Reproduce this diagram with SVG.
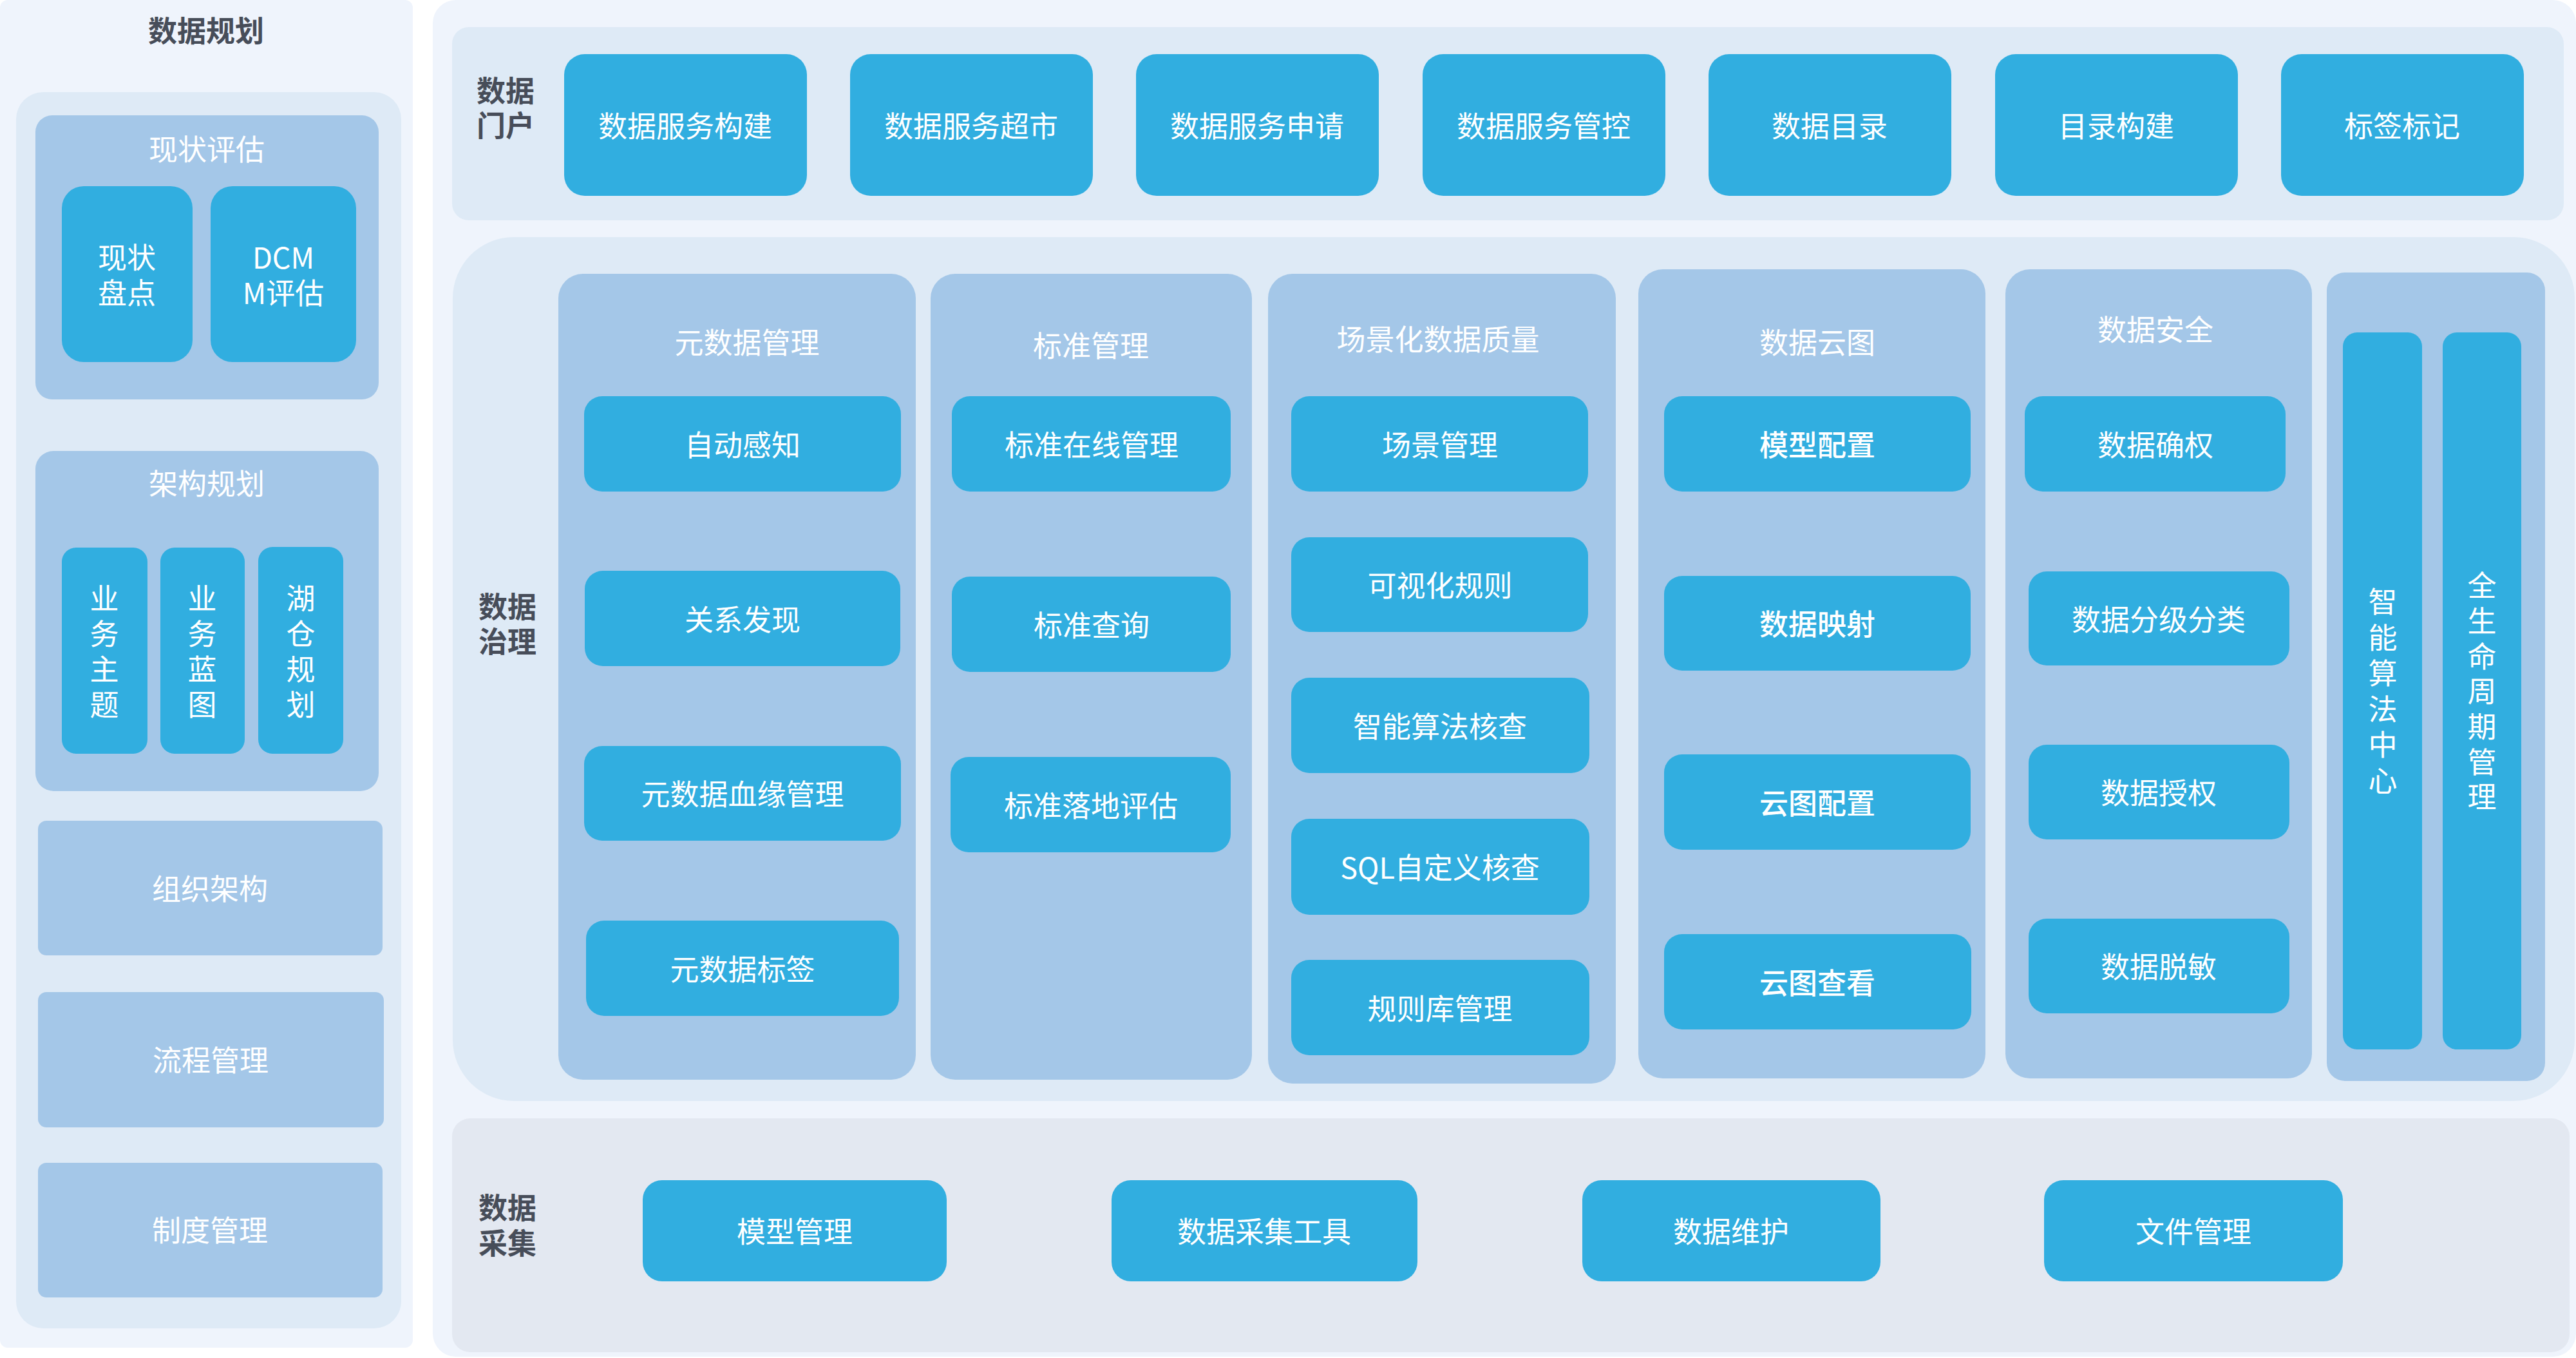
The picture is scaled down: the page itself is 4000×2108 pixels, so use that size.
<svg xmlns="http://www.w3.org/2000/svg" width="4000" height="2108" viewBox="0 0 4000 2108">
<style>
.op{fill:#eff4fc}
.band{fill:#deeaf6}
.col{fill:#a4c7e8}
.box{fill:#31aee0}
.coll{fill:#e3e8f1}
text{font-family:"Noto Sans CJK SC","Noto Sans",sans-serif;font-size:45px;fill:#ffffff;text-anchor:middle;dominant-baseline:central}
.lbl{fill:#474d59;font-weight:700}
.md{font-weight:500}
.v{writing-mode:vertical-rl;letter-spacing:10px}
</style>
<rect x="0" y="0" width="4000" height="2108" fill="#ffffff"/>

<!-- Left: 数据规划 -->
<g id="plan">
<rect class="op" x="0" y="0" width="641" height="2092" rx="12"/>
<text class="lbl" x="320" y="45">数据规划</text>
<rect class="band" x="25" y="143" width="598" height="1919" rx="42"/>
</g>
<g id="status-eval">
<rect class="col" x="55" y="179" width="533" height="441" rx="26"/>
<text x="321" y="229">现状评估</text>
</g>
<g id="status-inventory">
<rect class="box" x="96" y="289" width="203" height="273" rx="34"/>
<text><tspan x="197" y="397">现状</tspan><tspan x="197" y="452">盘点</tspan></text>
</g>
<g id="dcm">
<rect class="box" x="327" y="289" width="226" height="273" rx="34"/>
<text><tspan x="440" y="397">DCM</tspan><tspan x="440" y="452">M评估</tspan></text>
</g>
<g id="arch-plan">
<rect class="col" x="55" y="700" width="533" height="528" rx="28"/>
<text x="321" y="748">架构规划</text>
</g>
<g id="biz-topic">
<rect class="box" x="96" y="850" width="133" height="320" rx="22"/>
<text class="v" x="162" y="1016">业务主题</text>
</g>
<g id="biz-blueprint">
<rect class="box" x="249" y="850" width="131" height="320" rx="22"/>
<text class="v" x="314" y="1016">业务蓝图</text>
</g>
<g id="lakehouse-plan">
<rect class="box" x="401" y="849" width="132" height="321" rx="22"/>
<text class="v" x="467" y="1016">湖仓规划</text>
</g>
<g id="org">
<rect class="col" x="59" y="1274" width="535" height="209" rx="13"/>
<text x="326" y="1377">组织架构</text>
</g>
<g id="process">
<rect class="col" x="59" y="1540" width="537" height="210" rx="13"/>
<text x="327" y="1643">流程管理</text>
</g>
<g id="policy">
<rect class="col" x="59" y="1805" width="535" height="209" rx="13"/>
<text x="326" y="1907">制度管理</text>
</g>

<!-- Right main panel -->
<g id="main">
<rect class="op" x="672" y="0" width="3328" height="2106" rx="36"/>
</g>

<!-- 数据门户 -->
<g id="portal">
<rect class="band" x="702" y="42" width="3279" height="300" rx="26"/>
<text class="lbl"><tspan x="785" y="138">数据</tspan><tspan x="785" y="192">门户</tspan></text>
</g>
<g id="p1"><rect class="box" x="876" y="84" width="377" height="220" rx="32"/><text x="1064" y="193">数据服务构建</text></g>
<g id="p2"><rect class="box" x="1320" y="84" width="377" height="220" rx="32"/><text x="1508" y="193">数据服务超市</text></g>
<g id="p3"><rect class="box" x="1764" y="84" width="377" height="220" rx="32"/><text x="1952" y="193">数据服务申请</text></g>
<g id="p4"><rect class="box" x="2209" y="84" width="377" height="220" rx="32"/><text x="2397" y="193">数据服务管控</text></g>
<g id="p5"><rect class="box" x="2653" y="84" width="377" height="220" rx="32"/><text x="2841" y="193">数据目录</text></g>
<g id="p6"><rect class="box" x="3098" y="84" width="377" height="220" rx="32"/><text x="3286" y="193">目录构建</text></g>
<g id="p7"><rect class="box" x="3542" y="84" width="377" height="220" rx="32"/><text x="3730" y="193">标签标记</text></g>

<!-- 数据治理 -->
<g id="governance">
<rect class="band" x="703" y="368" width="3295" height="1341" rx="95"/>
<text class="lbl"><tspan x="788" y="939">数据</tspan><tspan x="788" y="993">治理</tspan></text>
</g>

<g id="metadata">
<rect class="col" x="867" y="425" width="555" height="1251" rx="38"/>
<text x="1160" y="529">元数据管理</text>
</g>
<g id="m1"><rect class="box" x="907" y="615" width="492" height="148" rx="28"/><text x="1153" y="688">自动感知</text></g>
<g id="m2"><rect class="box" x="908" y="886" width="490" height="148" rx="28"/><text x="1153" y="959">关系发现</text></g>
<g id="m3"><rect class="box" x="907" y="1158" width="492" height="147" rx="28"/><text x="1153" y="1230">元数据血缘管理</text></g>
<g id="m4"><rect class="box" x="910" y="1429" width="486" height="148" rx="28"/><text x="1153" y="1502">元数据标签</text></g>

<g id="standard">
<rect class="col" x="1445" y="425" width="499" height="1251" rx="38"/>
<text x="1694" y="534">标准管理</text>
</g>
<g id="s1"><rect class="box" x="1478" y="615" width="433" height="148" rx="28"/><text x="1695" y="688">标准在线管理</text></g>
<g id="s2"><rect class="box" x="1478" y="895" width="433" height="148" rx="28"/><text x="1695" y="968">标准查询</text></g>
<g id="s3"><rect class="box" x="1476" y="1175" width="435" height="148" rx="28"/><text x="1694" y="1248">标准落地评估</text></g>

<g id="quality">
<rect class="col" x="1969" y="425" width="540" height="1257" rx="38"/>
<text x="2233" y="524">场景化数据质量</text>
</g>
<g id="q1"><rect class="box" x="2005" y="615" width="461" height="148" rx="28"/><text x="2236" y="688">场景管理</text></g>
<g id="q2"><rect class="box" x="2005" y="834" width="461" height="147" rx="28"/><text x="2236" y="906">可视化规则</text></g>
<g id="q3"><rect class="box" x="2005" y="1052" width="463" height="148" rx="28"/><text x="2236" y="1125">智能算法核查</text></g>
<g id="q4"><rect class="box" x="2005" y="1271" width="463" height="149" rx="28"/><text x="2236" y="1344">SQL自定义核查</text></g>
<g id="q5"><rect class="box" x="2005" y="1490" width="463" height="148" rx="28"/><text x="2236" y="1563">规则库管理</text></g>

<g id="cloudmap">
<rect class="col" x="2544" y="418" width="539" height="1256" rx="38"/>
<text x="2822" y="529">数据云图</text>
</g>
<g id="c1"><rect class="box" x="2584" y="615" width="476" height="148" rx="28"/><text class="md" x="2822" y="688">模型配置</text></g>
<g id="c2"><rect class="box" x="2584" y="894" width="476" height="147" rx="28"/><text class="md" x="2822" y="966">数据映射</text></g>
<g id="c3"><rect class="box" x="2584" y="1171" width="476" height="148" rx="28"/><text class="md" x="2822" y="1244">云图配置</text></g>
<g id="c4"><rect class="box" x="2584" y="1450" width="477" height="148" rx="28"/><text class="md" x="2822" y="1523">云图查看</text></g>

<g id="security">
<rect class="col" x="3114" y="418" width="476" height="1256" rx="38"/>
<text x="3347" y="509">数据安全</text>
</g>
<g id="d1"><rect class="box" x="3144" y="615" width="405" height="148" rx="28"/><text x="3347" y="688">数据确权</text></g>
<g id="d2"><rect class="box" x="3150" y="887" width="405" height="146" rx="28"/><text x="3352" y="959">数据分级分类</text></g>
<g id="d3"><rect class="box" x="3150" y="1156" width="405" height="147" rx="28"/><text x="3352" y="1228">数据授权</text></g>
<g id="d4"><rect class="box" x="3150" y="1426" width="405" height="147" rx="28"/><text x="3352" y="1498">数据脱敏</text></g>

<g id="side-col">
<rect class="col" x="3613" y="423" width="339" height="1255" rx="28"/>
</g>
<g id="algo-center">
<rect class="box" x="3638" y="516" width="123" height="1113" rx="22"/>
<text class="v" x="3700" y="1078" style="letter-spacing:10.5px">智能算法中心</text>
</g>
<g id="lifecycle">
<rect class="box" x="3793" y="516" width="122" height="1113" rx="22"/>
<text class="v" x="3854" y="1078" style="letter-spacing:9.7px">全生命周期管理</text>
</g>

<!-- 数据采集 -->
<g id="collection">
<rect class="coll" x="702" y="1736" width="3288" height="363" rx="28"/>
<text class="lbl"><tspan x="788" y="1872">数据</tspan><tspan x="788" y="1927">采集</tspan></text>
</g>
<g id="k1"><rect class="box" x="998" y="1832" width="472" height="157" rx="30"/><text x="1234" y="1909">模型管理</text></g>
<g id="k2"><rect class="box" x="1726" y="1832" width="475" height="157" rx="30"/><text x="1963" y="1909">数据采集工具</text></g>
<g id="k3"><rect class="box" x="2457" y="1832" width="463" height="157" rx="30"/><text x="2688" y="1909">数据维护</text></g>
<g id="k4"><rect class="box" x="3174" y="1832" width="464" height="157" rx="30"/><text x="3406" y="1909">文件管理</text></g>

<g id="connectors"/>
</svg>
